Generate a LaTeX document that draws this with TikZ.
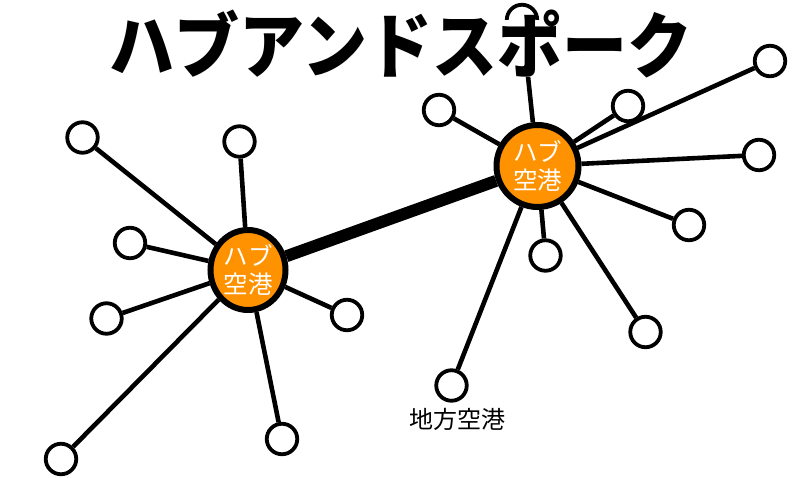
\documentclass[tikz,border=0pt]{standalone}
\usepackage{fontspec}
\setmainfont{Noto Sans CJK JP}
\newfontfamily\titlefont{Noto Sans CJK JP Black}
\usetikzlibrary{shapes.geometric,backgrounds}
\definecolor{hubor}{RGB}{255,146,0}
\tikzset{
  leaf/.style={circle,draw=black,fill=white,line width=3.8pt,minimum size=30.5pt,inner sep=0pt},
  hub/.style={circle,draw=black,fill=hubor,line width=6pt,minimum size=82pt,inner sep=0pt,
    text=white,font=\fontsize{24.5}{28}\selectfont,align=center},
  spoke/.style={line width=4.6pt},
  trunk/.style={line width=12pt},
  lbl/.style={font=\fontsize{24}{28}\selectfont,inner sep=0pt},
  ttl/.style={font=\titlefont\fontsize{65}{65}\selectfont,inner sep=0pt,yscale=1.1},
}
\begin{document}
\begin{tikzpicture}[x=1pt,y=-1pt]
\useasboundingbox (0,0) rectangle (800,478);
% hubs
\node[hub,ellipse,minimum width=75pt,minimum height=80pt] (h1) at (248,270) {ハブ\\空港};
\node[hub] (h2) at (537.5,166) {ハブ\\空港};
% leaves of hub 1
\node[leaf] (a) at (82.5,137.5) {};
\node[leaf] (b) at (239.5,141.5) {};
\node[leaf] (c) at (130,243) {};
\node[leaf] (d) at (106.5,318.5) {};
\node[leaf] (e) at (347,315) {};
\node[leaf] (f) at (282,439) {};
\node[leaf] (g) at (61,459) {};
% leaves of hub 2
\node[leaf] (t) at (522,20) {};
\node[leaf] (hh) at (439,110) {};
\node[leaf] (i) at (628,106) {};
\node[leaf] (j) at (770,61) {};
\node[leaf] (k) at (759,155) {};
\node[leaf] (l) at (689,225) {};
\node[leaf] (m) at (545.5,255.5) {};
\node[leaf] (n) at (645.5,332) {};
\node[leaf] (o) at (451.5,385.5) {};
\node[lbl] (olbl) at (457.5,419) {地方空港};
\begin{scope}[on background layer]
  \draw[trunk] (h1) -- (h2);
  \foreach \x in {a,b,c,d,e,f,g} \draw[spoke] (h1) -- (\x);
  \foreach \x in {t,hh,i,j,k,l,m,n,o} \draw[spoke] (h2) -- (\x);
\end{scope}
% title with white backing
\fill[white] (105,20) rectangle (700,77);
\node[ttl] (title) at (401,44.5) {ハブアンドスポーク};
\end{tikzpicture}
\end{document}
